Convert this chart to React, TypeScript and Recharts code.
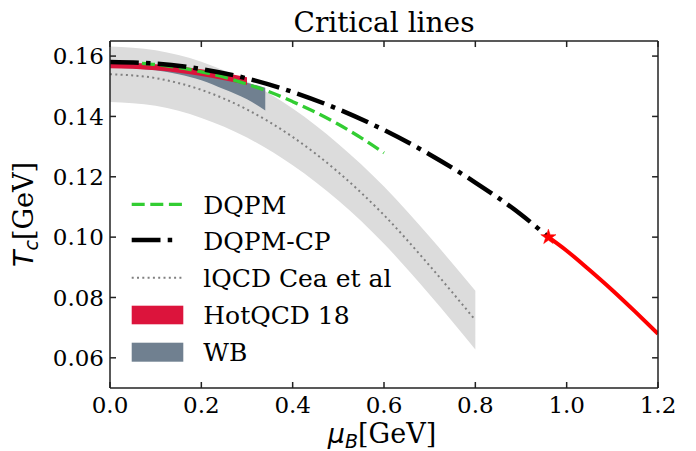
import { ComposedChart, Line, Area, Scatter, XAxis, YAxis, Legend, ReferenceLine } from 'recharts'

// lQCD (Cea et al) central line and band
const ceaMu = [0, 0.1, 0.2, 0.3, 0.4, 0.5, 0.6, 0.7, 0.8]
const ceaT = [0.154, 0.1527, 0.1488, 0.1423, 0.1332, 0.1215, 0.1073, 0.0905, 0.0725]
const ceaHi = [0.1632, 0.1619, 0.1581, 0.1516, 0.1426, 0.1309, 0.1168, 0.1001, 0.0822]
const ceaLo = [0.1448, 0.1435, 0.1395, 0.133, 0.1238, 0.1121, 0.0978, 0.0809, 0.0628]

// HotQCD 18 band
const hotMu = [0, 0.05, 0.1, 0.15, 0.2, 0.25, 0.3]
const hotHi = [0.1578, 0.1577, 0.1573, 0.1566, 0.1556, 0.1544, 0.153]
const hotLo = [0.156, 0.1558, 0.1553, 0.1545, 0.1534, 0.152, 0.1505]

// WB band
const wbMu = [0, 0.05, 0.1, 0.15, 0.2, 0.25, 0.3, 0.34]
const wbHi = [0.1578, 0.1576, 0.1571, 0.1562, 0.1549, 0.1532, 0.1512, 0.1495]
const wbLo = [0.1561, 0.1559, 0.1553, 0.154, 0.152, 0.149, 0.1457, 0.142]

// DQPM
const dqpmMu = [0.07, 0.1, 0.15, 0.2, 0.25, 0.3, 0.35, 0.4, 0.45, 0.5, 0.55, 0.6]
const dqpmT = [0.1576, 0.1572, 0.1562, 0.1548, 0.153, 0.1507, 0.1481, 0.1449, 0.1414, 0.1374, 0.1329, 0.1279]

// DQPM-CP crossover up to the CEP
const cpMu = [0, 0.1, 0.2, 0.3, 0.4, 0.5, 0.6, 0.7, 0.8, 0.9, 0.96]
const cpT = [0.158, 0.1575, 0.1557, 0.1526, 0.1481, 0.1424, 0.1355, 0.1274, 0.1181, 0.1075, 0.1]

// first order line beyond the CEP
const foMu = [0.96, 1.0, 1.05, 1.1, 1.15, 1.2]
const foT = [0.1, 0.0955, 0.0891, 0.0824, 0.0753, 0.068]

const cepMu = 0.96
const cepT = 0.1

const xDomain = [0, 1.2]
const yDomain = [0.05, 0.165]
const xTicks = [0, 0.2, 0.4, 0.6, 0.8, 1.0, 1.2]
const yTicks = [0.06, 0.08, 0.1, 0.12, 0.14, 0.16]
const legendLabels = ['DQPM', 'DQPM-CP', 'lQCD Cea et al', 'HotQCD 18', 'WB']

const line = (mu: number[], t: number[]) => mu.map((m, i) => ({ mu: m, T: t[i] }))
const band = (mu: number[], lo: number[], hi: number[]) => mu.map((m, i) => ({ mu: m, band: [lo[i], hi[i]] }))

const ceaLine = line(ceaMu, ceaT)
const ceaBand = band(ceaMu, ceaLo, ceaHi)
const hotBand = band(hotMu, hotLo, hotHi)
const wbBand = band(wbMu, wbLo, wbHi)
const dqpm = line(dqpmMu, dqpmT)
const cp = line(cpMu, cpT)
const fo = line(foMu, foT)
const cep = [{ mu: cepMu, T: cepT }]

const serif = '"DejaVu Serif", serif'
const sans = '"DejaVu Sans", sans-serif'
const frame = '#222'

const GREEN = '#32cd32'
const GRAYBAND = '#dcdcdc'
const HOT = '#dc143c'
const WB = '#708090'
const CP_DASH = '28.8 7.2 4.5 7.2'

// inward tick length on the top/right frame, in data units (~6px)
const tickLenY = 0.002
const tickLenX = 0.013

function Star(props: any) {
  const { cx, cy } = props
  const R = 8
  const r = R * 0.382
  let d = ''
  for (let i = 0; i < 10; i++) {
    const rad = i % 2 === 0 ? R : r
    const a = -Math.PI / 2 + (i * Math.PI) / 5
    d += (i === 0 ? 'M' : 'L') + (cx + rad * Math.cos(a)).toFixed(2) + ',' + (cy + rad * Math.sin(a)).toFixed(2)
  }
  return <path d={d + 'Z'} fill="red" stroke="red" strokeWidth={0.5} />
}

function LegendBox() {
  const x0 = 11.7
  const x1 = 63.3
  const tx = 83.3
  const base = [34, 70, 106.7, 144, 180.7]
  return (
    <svg width={320} height={200} style={{ display: 'block' }}>
      <line x1={x0} x2={x1} y1={24.3} y2={24.3} stroke={GREEN} strokeWidth={3.3} strokeDasharray="13 5.6" />
      <line x1={x0} x2={x0 + 41} y1={60} y2={60} stroke="#000" strokeWidth={4.5} strokeDasharray={CP_DASH} />
      <line x1={x0} x2={x1} y1={97.7} y2={97.7} stroke="#808080" strokeWidth={2} strokeDasharray="2 3.3" />
      <rect x={x0} y={125.7} width={x1 - x0} height={18.6} fill={HOT} />
      <rect x={x0} y={162.7} width={x1 - x0} height={19} fill={WB} />
      {legendLabels.map((l, i) => (
        <text key={l} x={tx} y={base[i]} fontSize={25} fontFamily={serif} fill="#000">
          {l}
        </text>
      ))}
    </svg>
  )
}

export default function App() {
  return (
    <div style={{ position: 'absolute', left: 0, top: 0, background: '#fff' }}>
      <ComposedChart width={696} height={451} margin={{ top: 41, right: 38, bottom: 23, left: 50 }}>
        <XAxis
          dataKey="mu"
          type="number"
          domain={xDomain}
          ticks={xTicks}
          allowDataOverflow
          height={40}
          tickSize={-6}
          tickMargin={15}
          stroke={frame}
          strokeWidth={1.5}
          tickFormatter={(v: number) => v.toFixed(1)}
          tick={{ fill: '#000', fontSize: 23, fontFamily: serif }}
          label={() => (
            <g>
              <text x={384} y={31.5} textAnchor="middle" fontSize={28} fontFamily={serif} fill="#000">
                Critical lines
              </text>
              <text x={382} y={443} textAnchor="middle" fontSize={27} fontFamily={serif} fill="#000">
                <tspan fontFamily={sans} fontStyle="italic">μ</tspan>
                <tspan fontFamily={sans} fontStyle="italic" fontSize={19} dy={5}>B</tspan>
                <tspan dy={-5}>[GeV]</tspan>
              </text>
            </g>
          )}
        />
        <YAxis
          type="number"
          domain={yDomain}
          ticks={yTicks}
          allowDataOverflow
          width={60}
          tickSize={-6}
          tickMargin={12}
          stroke={frame}
          strokeWidth={1.5}
          tickFormatter={(v: number) => v.toFixed(2)}
          tick={{ fill: '#000', fontSize: 23, fontFamily: serif }}
          label={() => (
            <text transform="translate(33,214.5) rotate(-90)" textAnchor="middle" fontSize={27} fontFamily={serif} fill="#000">
              <tspan fontFamily={sans} fontStyle="italic">T</tspan>
              <tspan fontFamily={sans} fontStyle="italic" fontSize={19} dy={5}>c</tspan>
              <tspan dy={-5}>[GeV]</tspan>
            </text>
          )}
        />
        <Area data={ceaBand} dataKey="band" type="monotone" fill={GRAYBAND} fillOpacity={1} stroke="none" isAnimationActive={false} />
        <Area data={wbBand} dataKey="band" type="monotone" fill={WB} fillOpacity={1} stroke="none" isAnimationActive={false} />
        <Area data={hotBand} dataKey="band" type="monotone" fill={HOT} fillOpacity={1} stroke="none" isAnimationActive={false} />
        <Line data={ceaLine} dataKey="T" type="monotone" stroke="#808080" strokeWidth={2} strokeDasharray="2 3.3" dot={false} isAnimationActive={false} />
        <Line data={dqpm} dataKey="T" type="monotone" stroke={GREEN} strokeWidth={3.3} strokeDasharray="13 5.6" dot={false} isAnimationActive={false} />
        <Line data={cp} dataKey="T" type="monotone" stroke="#000" strokeWidth={4.5} strokeDasharray={CP_DASH} dot={false} isAnimationActive={false} />
        <Line data={fo} dataKey="T" type="monotone" stroke="red" strokeWidth={4} dot={false} isAnimationActive={false} />
        <Scatter data={cep} dataKey="T" shape={<Star />} isAnimationActive={false} />

        {/* top and right frame with inward ticks */}
        <ReferenceLine y={yDomain[1]} stroke={frame} strokeWidth={1.5} ifOverflow="visible" />
        <ReferenceLine x={xDomain[1]} stroke={frame} strokeWidth={1.5} ifOverflow="visible" />
        {xTicks.map((t) => (
          <ReferenceLine
            key={'tx' + t}
            segment={[{ x: t, y: yDomain[1] }, { x: t, y: yDomain[1] - tickLenY }]}
            stroke={frame}
            strokeWidth={1.5}
            ifOverflow="visible"
          />
        ))}
        {yTicks.map((t) => (
          <ReferenceLine
            key={'ty' + t}
            segment={[{ x: xDomain[1], y: t }, { x: xDomain[1] - tickLenX, y: t }]}
            stroke={frame}
            strokeWidth={1.5}
            ifOverflow="visible"
          />
        ))}

        <Legend
          layout="vertical"
          align="center"
          verticalAlign="middle"
          wrapperStyle={{ left: 120, top: 180, width: 320, height: 200 }}
          content={() => <LegendBox />}
        />
      </ComposedChart>
    </div>
  )
}
